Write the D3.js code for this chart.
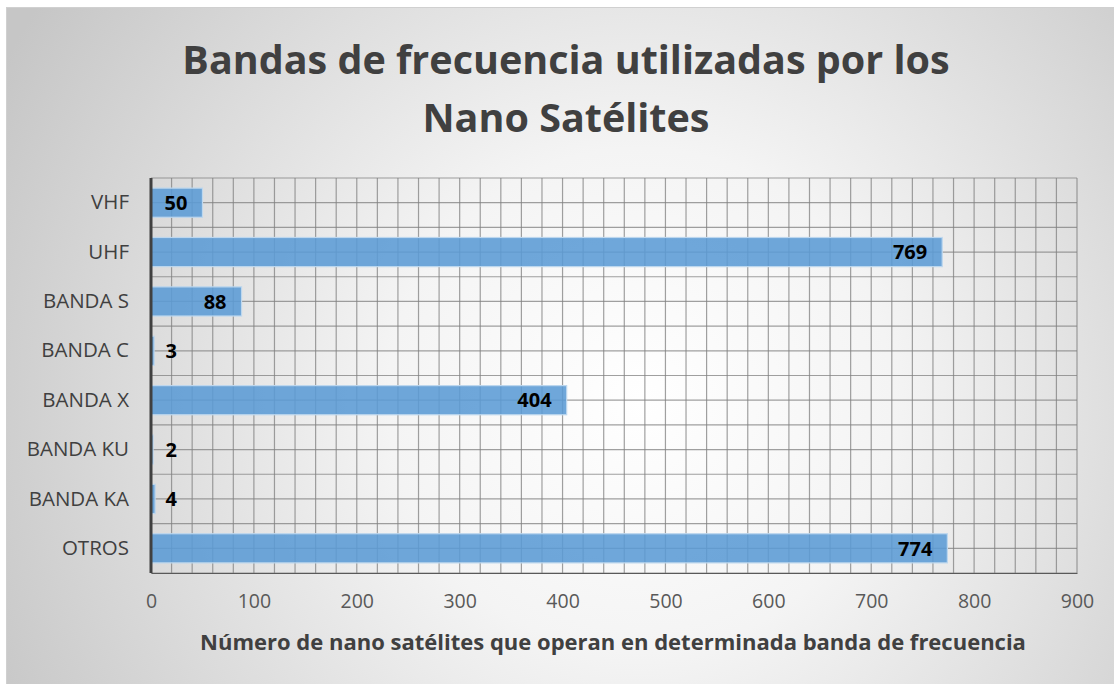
<!DOCTYPE html>
<html>
<head>
<meta charset="utf-8">
<script src="https://cdn.jsdelivr.net/npm/d3@7"></script>
<style>
  body { margin: 0; background: #fff; }
  text { font-family: "Open Sans", Lato, sans-serif; }
</style>
</head>
<body>
<div id="chart"></div>
<script>
// data
var bandas = ["VHF", "UHF", "BANDA S", "BANDA C", "BANDA X", "BANDA KU", "BANDA KA", "OTROS"];
var satelites = [50, 769, 88, 3, 404, 2, 4, 774];
var xTicks = [0, 100, 200, 300, 400, 500, 600, 700, 800, 900];
var tituloLineas = ["Bandas de frecuencia utilizadas por los", "Nano Satélites"];
var tituloEjeX = "Número de nano satélites que operan en determinada banda de frecuencia";

var W = 1114, H = 684;
var margin = { top: 178, left: 151, right: 37, bottom: 111 };
var width = W - margin.left - margin.right;
var height = H - margin.top - margin.bottom;

var svg = d3.select("#chart").append("svg")
  .attr("width", W).attr("height", H);

// background gradient
var defs = svg.append("defs");
var grad = defs.append("radialGradient")
  .attr("id", "fondo")
  .attr("gradientUnits", "userSpaceOnUse")
  .attr("cx", 640).attr("cy", 400).attr("r", 720);
grad.append("stop").attr("offset", "0%").attr("stop-color", "#ffffff");
grad.append("stop").attr("offset", "35%").attr("stop-color", "#f4f4f4");
grad.append("stop").attr("offset", "100%").attr("stop-color", "#c6c6c6");

svg.append("rect")
  .attr("x", 6.5).attr("y", 7.5)
  .attr("width", W).attr("height", H)
  .attr("fill", "url(#fondo)")
  .attr("stroke", "#d0d0d0");

var x = d3.scaleLinear().domain([0, 900]).range([0, width]);
var y = d3.scaleBand().domain(bandas).range([0, height]).paddingInner(0.41).paddingOuter(0.205);

var g = svg.append("g")
  .attr("transform", "translate(" + margin.left + "," + margin.top + ")");

// minor vertical grid every 20
var vGrid = d3.range(20, 901, 20);
g.append("g").selectAll("line")
  .data(vGrid)
  .enter().append("line")
  .attr("x1", d => x(d)).attr("x2", d => x(d))
  .attr("y1", 0).attr("y2", height)
  .attr("stroke", "#808080").attr("stroke-opacity", 0.75)
  .attr("stroke-width", 1.2);

// horizontal grid every half category
var step = y.step();
var hGrid = d3.range(0, bandas.length * 2 + 1);
g.append("g").selectAll("line")
  .data(hGrid)
  .enter().append("line")
  .attr("x1", 0).attr("x2", width)
  .attr("y1", d => y.range()[0] + d * step / 2)
  .attr("y2", d => y.range()[0] + d * step / 2)
  .attr("stroke", "#808080").attr("stroke-opacity", 0.75)
  .attr("stroke-width", 1.2);

// bars
g.append("g").selectAll("rect")
  .data(satelites)
  .enter().append("rect")
  .attr("x", 0)
  .attr("y", (d, i) => y(bandas[i]))
  .attr("width", d => x(d))
  .attr("height", y.bandwidth())
  .attr("fill", "#5b9bd5").attr("fill-opacity", 0.88)
  .attr("stroke", "#bdd7ee").attr("stroke-width", 1.2);

// value labels
g.append("g").selectAll("text")
  .data(satelites)
  .enter().append("text")
  .attr("x", d => Math.max(x(d) - 15, 26))
  .attr("y", (d, i) => y(bandas[i]) + y.bandwidth() / 2)
  .attr("dy", "0.36em")
  .attr("text-anchor", "end")
  .attr("font-size", 20)
  .attr("font-weight", "bold")
  .attr("fill", "#000")
  .text(d => d);

// y axis
var yAxis = g.append("g").call(d3.axisLeft(y).tickSize(0).tickPadding(22));
yAxis.select(".domain").attr("stroke", "#404040").attr("stroke-width", 3)
  .attr("d", "M0," + 0 + "V" + height);
yAxis.selectAll("text")
  .attr("font-family", "'Open Sans', sans-serif")
  .attr("font-size", 20.5)
  .attr("fill", "#404040");

// x axis
var xAxis = g.append("g")
  .attr("transform", "translate(0," + height + ")")
  .call(d3.axisBottom(x).tickValues(xTicks).tickSize(0).tickPadding(21));
xAxis.select(".domain").attr("stroke", "#595959").attr("stroke-width", 1.2);
xAxis.selectAll("text")
  .attr("font-family", "'Open Sans', sans-serif")
  .attr("font-size", 19.5)
  .attr("fill", "#595959");

// axis title
svg.append("text")
  .attr("x", 613)
  .attr("y", 650)
  .attr("text-anchor", "middle")
  .attr("font-size", 22)
  .attr("font-weight", "bold")
  .attr("fill", "#404040")
  .text(tituloEjeX);

// title
svg.append("g").selectAll("text")
  .data(tituloLineas)
  .enter().append("text")
  .attr("x", 566)
  .attr("y", (d, i) => 74 + i * 58)
  .attr("text-anchor", "middle")
  .attr("font-size", 39.5)
  .attr("font-weight", "bold")
  .attr("fill", "#404040")
  .text(d => d);
</script>
</body>
</html>
